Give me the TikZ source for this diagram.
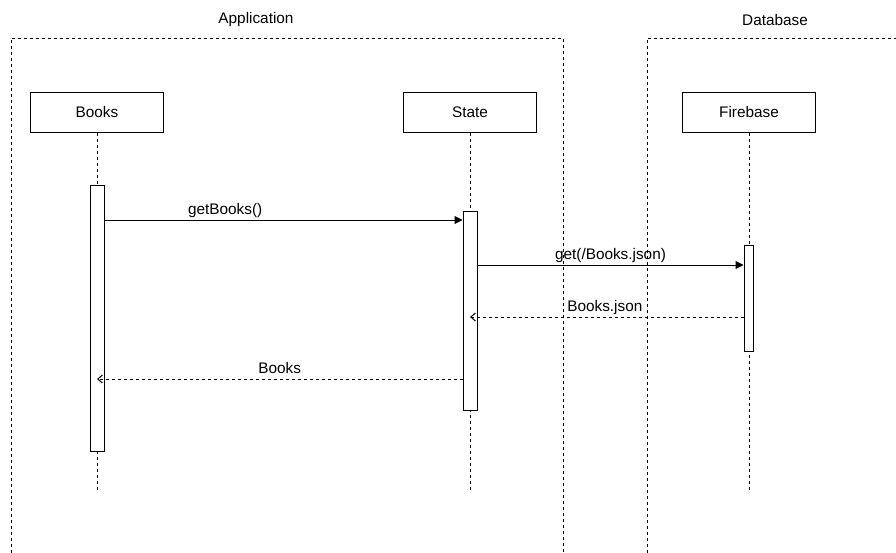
\documentclass[tikz,border=0pt]{standalone}
\usepackage{fontspec}
\setmainfont{Liberation Sans}
\usetikzlibrary{arrows.meta}
\tikzset{
	actor/.style={draw,line width=.75pt,minimum width=99.75pt,minimum height=30pt,inner sep=0pt},
	bar/.style={draw,fill=white,line width=.75pt,inner sep=0pt,anchor=north},
	lifeline/.style={line width=.75pt,dash pattern=on 2.25pt off 2.25pt},
	frame/.style={line width=.75pt,dash pattern=on 2.25pt off 2.25pt},
	call/.style={line width=.75pt,-{Triangle[length=6pt,width=6pt]}},
	reply/.style={line width=.75pt,dash pattern=on 2.25pt off 2.25pt,-{Straight Barb[length=3.5pt,width=6pt]}},
	msg/.style={inner sep=1pt}
}
\begin{document}
\begin{tikzpicture}[x=.75pt,y=-.75pt,font=\fontsize{11.5}{13}\selectfont]
	\useasboundingbox (0,0) rectangle (896,553);
	% frames
	\draw[frame] (11,553) -- (11,38) -- (563,38) -- (563,553);
	\draw[frame] (647,553) -- (647,38) -- (896,38);
	\node (applabel) at (256,20) {Application};
	\node (dblabel) at (775,20) {Database};
	% participants
	\node[actor] (books) at (97,112) {Books};
	\node[actor] (state) at (470,112) {State};
	\node[actor] (firebase) at (749,112) {Firebase};
	\draw[lifeline] (books) -- (books |- 0,491);
	\draw[lifeline] (state) -- (state |- 0,491);
	\draw[lifeline] (firebase) -- (firebase |- 0,491);
	% activations
	\node[bar,minimum width=10.5pt,minimum height=199.5pt] (booksbar) at (97,185) {};
	\node[bar,minimum width=10.5pt,minimum height=149.25pt] (statebar) at (470,211) {};
	\node[bar,minimum width=6.75pt,minimum height=79.5pt] (firebasebar) at (748.5,245) {};
	% messages
	\draw[call] (booksbar.east |- 0,220) -- node[msg,above,pos=.337] (m1) {getBooks()} (statebar.west |- 0,220);
	\draw[call] (statebar.east |- 0,265) -- node[msg,above] (m2) {get(/Books.json)} (firebasebar.west |- 0,265);
	\draw[reply] (firebasebar.west |- 0,317) -- node[msg,above,pos=.507] (m3) {Books.json} (statebar.center |- 0,317);
	\draw[reply] (statebar.west |- 0,379) -- node[msg,above,yshift=2.5pt] (m4) {Books} (booksbar.center |- 0,379);
\end{tikzpicture}
\end{document}
